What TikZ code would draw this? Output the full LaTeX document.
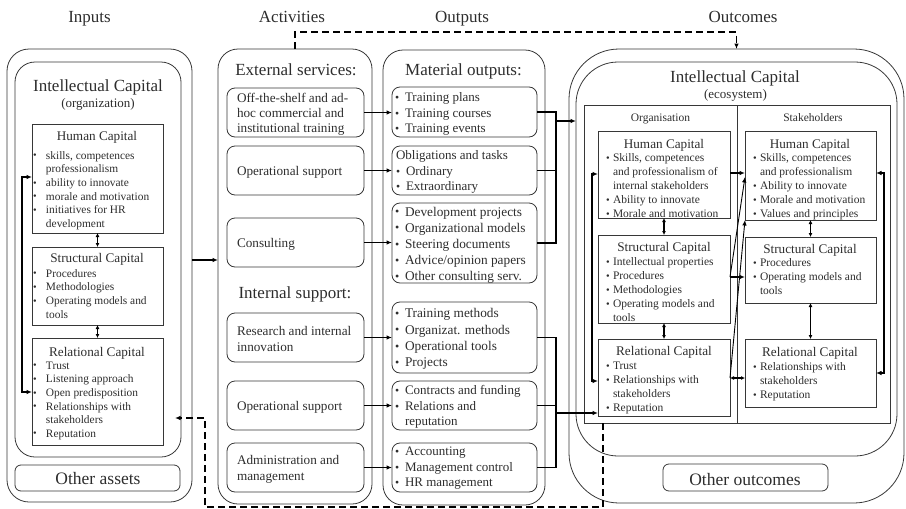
\documentclass[tikz,border=0pt]{standalone}
\usepackage{fontspec}
\setmainfont{Liberation Serif}
\usepackage{graphicx}
\usetikzlibrary{fit,arrows.meta,calc}
\definecolor{txt}{RGB}{45,45,45}
\definecolor{boxc}{RGB}{55,55,55}
\newcommand\bdot{\raisebox{0.05ex}{\scalebox{0.9}{\textbullet}}}
\newcommand\bL{\strut\makebox[13pt][l]{\bdot}}
\newcommand\iL{\strut\hspace*{13pt}}
\newcommand\bO{\strut\makebox[10pt][l]{\bdot}}
\newcommand\iO{\strut\hspace*{10pt}}
\newcommand\bC{\strut\makebox[7pt][l]{\bdot}}
\newcommand\iC{\strut\hspace*{7pt}}
\begin{document}
\begin{tikzpicture}[x=1pt,y=-1pt,
  >={Latex[length=5.5pt,width=4.5pt]},
  every node/.style={text=txt, inner sep=0pt, outer sep=0pt},
  frame/.style={draw=boxc, line width=0.8pt},
  cbox/.style={frame},
  rbox/.style={frame, rounded corners=8pt},
  conn/.style={line width=1.3pt, black},
  thinconn/.style={line width=0.9pt, black},
  dbl/.style={{Latex[length=4pt,width=4pt]}-{Latex[length=4pt,width=4pt]}},
  dashln/.style={line width=1.4pt, black, dash pattern=on 7pt off 4pt},
  head/.style={font=\fontsize{17}{20}\selectfont, anchor=base},
  bigt/.style={font=\fontsize{17}{20}\selectfont, anchor=base},
  subt/.style={font=\fontsize{13}{15}\selectfont, anchor=base},
  colt/.style={font=\fontsize{17}{20}\selectfont, anchor=base},
  ttl/.style={font=\fontsize{13.2}{15}\selectfont, anchor=base},
  boxlbl/.style={font=\fontsize{17.5}{20}\selectfont, anchor=base},
  smallt/.style={font=\fontsize{11.5}{14}\selectfont, anchor=base},
  actl/.style={font=\fontsize{13.2}{15}\selectfont, anchor=base west},
  lst/.style={anchor=north west, align=left},
  lstL/.style={lst, font=\fontsize{11.4}{13.6}\selectfont},
  lstA/.style={lst, font=\fontsize{13.2}{15}\selectfont},
  lstAb/.style={lst, font=\fontsize{13.2}{16}\selectfont},
  lstO/.style={lst, font=\fontsize{13}{15.5}\selectfont},
  lstOb/.style={lst, font=\fontsize{13.3}{16.2}\selectfont},
  lstC/.style={lst, font=\fontsize{11.5}{14}\selectfont}
]
\useasboundingbox (0,0) rectangle (906,509);

% headings
\node[head] (hIn) at (89.5,22) {Inputs};
\node[head] (hAct) at (292,22) {Activities};
\node[head] (hOutp) at (462,22) {Outputs};
\node[head] (hOutc) at (743,22) {Outcomes};

% ---------------- Inputs column
\node[frame, rounded corners=22pt, fit={(7,49)(192,502)}] (lOut) {};
\node[frame, rounded corners=20pt, fit={(15,62)(181,457)}] (lIn) {};
\node[bigt] (lT) at (98,91) {Intellectual Capital};
\node[subt] (lS) at (98,107) {(organization)};
\node[cbox, fit={(32,124)(163,233)}] (lHum) {};
\node[ttl] (lHumT) at (97,140) {Human Capital};
\node[lstL] (lHumL) at (33,149.7) {\bL skills, competences\\\iL professionalism\\\bL ability to innovate\\\bL morale and motivation\\\bL initiatives for HR\\\iL development};
\node[cbox, fit={(32,247)(163,325)}] (lStr) {};
\node[ttl] (lStrT) at (97,262) {Structural Capital};
\node[lstL] (lStrL) at (33,267.7) {\bL Procedures\\\bL Methodologies\\\bL Operating models and\\\iL tools};
\node[cbox, fit={(32,338)(163,445)}] (lRel) {};
\node[ttl] (lRelT) at (97,356) {Relational Capital};
\node[lstL] (lRelL) at (33,359.7) {\bL Trust\\\bL Listening approach\\\bL Open predisposition\\\bL Relationships with\\\iL stakeholders\\\bL Reputation};
\node[frame, rounded corners=6pt, fit={(15,465)(180,491)}] (lOth) {};
\node[boxlbl] (lOthT) at (98,484) {Other assets};

\draw[conn,dbl] (lHum.south) -- (lStr.north);
\draw[conn,dbl] (lStr.south) -- (lRel.north);
\draw[conn,<->] (lHum.west |- 0,177) -| (22,285) |- (lRel.west |- 0,392);

% ---------------- Activities column
\node[frame, rounded corners=20pt, fit={(218,49)(372,504)}] (aOut) {};
\node[colt] (aExt) at (296,75) {External services:};
\node[rbox, fit={(227,88)(364,137)}] (a1) {};
\node[lstA] (a1T) at (237,91.5) {\strut Off-the-shelf and ad-\\\strut hoc commercial and\\\strut institutional training};
\node[rbox, fit={(227,146)(364,195)}] (a2) {};
\node[actl] (a2T) at (237,175) {Operational support};
\node[rbox, fit={(227,218)(364,267)}] (a3) {};
\node[actl] (a3T) at (237,247) {Consulting};
\node[colt] (aInt) at (295,298) {Internal support:};
\node[rbox, fit={(227,313)(364,362)}] (a4) {};
\node[lstAb] (a4T) at (237,323.8) {\strut Research and internal\\\strut innovation};
\node[rbox, fit={(227,381)(364,430)}] (a5) {};
\node[actl] (a5T) at (237,410) {Operational support};
\node[rbox, fit={(227,443)(364,492)}] (a6) {};
\node[lstAb] (a6T) at (237,452.8) {\strut Administration and\\\strut management};

\draw[conn,->] (lOut.east |- 0,260) -- (aOut.west |- 0,260);

% ---------------- Outputs column
\node[frame, rounded corners=20pt, fit={(383,50)(545,505)}] (oOut) {};
\node[colt] (oMat) at (463.5,75) {Material outputs:};
\node[rbox, fit={(392,87)(537,137)}] (o1) {};
\node[lstO] (o1T) at (395,91) {\bO Training plans\\\bO Training courses\\\bO Training events};
\node[rbox, fit={(392,146)(537,195)}] (o2) {};
\node[lstO] (o2T) at (396,149) {\strut Obligations and tasks\\\bO Ordinary\\\bO Extraordinary};
\node[rbox, fit={(392,203)(537,283)}] (o3) {};
\node[lstOb] (o3T) at (395,204.7) {\bO Development projects\\\bO Organizational models\\\bO Steering documents\\\bO Advice/opinion papers\\\bO Other consulting serv.};
\node[rbox, fit={(392,302)(537,373)}] (o4) {};
\node[lstOb] (o4T) at (395,306.6) {\bO Training methods\\\bO Organizat. methods\\\bO Operational tools\\\bO Projects};
\node[rbox, fit={(392,381)(537,430)}] (o5) {};
\node[lstO] (o5T) at (395,384) {\bO Contracts and funding\\\bO Relations and\\\iO reputation};
\node[rbox, fit={(392,443)(537,492)}] (o6) {};
\node[lstO] (o6T) at (395,445) {\bO Accounting\\\bO Management control\\\bO HR management};

\foreach \i in {1,...,6} {\draw[conn,->] (a\i.east) -- (o\i.west |- a\i.east);}

% ---------------- Outcomes column
\node[frame, rounded corners=50pt, fit={(569,49)(904,503)}] (ocOut) {};
\node[frame, rounded corners=42pt, fit={(576,62)(897,456)}] (ocIn) {};
\node[bigt] (ocT) at (735,82) {Intellectual Capital};
\node[subt] (ocS) at (735.5,98) {(ecosystem)};
\node[draw=boxc, line width=0.5pt, fit={(584,105)(890,423)}] (grid) {};
\draw[draw=boxc, line width=0.5pt] (grid.north -| 737,0) -- (grid.south -| 737,0);
\node[smallt] (gOrg) at (660.5,121) {Organisation};
\node[smallt] (gSt) at (813,121) {Stakeholders};

\node[cbox, fit={(598,131)(730,218)}] (orH) {};
\node[ttl] (orHT) at (664,148) {Human Capital};
\node[lstC] (orHL) at (606,151.7) {\bC Skills, competences\\\iC and professionalism of\\\iC internal stakeholders\\\bC Ability to innovate\\\bC Morale and motivation};
\node[cbox, fit={(598,235)(730,323)}] (orS) {};
\node[ttl] (orST) at (664,251) {Structural Capital};
\node[lstC] (orSL) at (606,255.7) {\bC Intellectual properties\\\bC Procedures\\\bC Methodologies\\\bC Operating models and\\\iC tools};
\node[cbox, fit={(598,339)(730,416)}] (orR) {};
\node[ttl] (orRT) at (664,355) {Relational Capital};
\node[lstC] (orRL) at (606,359.7) {\bC Trust\\\bC Relationships with\\\iC stakeholders\\\bC Reputation};

\node[cbox, fit={(745,131)(876,220)}] (stH) {};
\node[ttl] (stHT) at (810,148) {Human Capital};
\node[lstC] (stHL) at (753,151.7) {\bC Skills, competences\\\iC and professionalism\\\bC Ability to innovate\\\bC Morale and motivation\\\bC Values and principles};
\node[cbox, fit={(745,237)(876,303)}] (stS) {};
\node[ttl] (stST) at (810,253) {Structural Capital};
\node[lstC] (stSL) at (753,256.7) {\bC Procedures\\\bC Operating models and\\\iC tools};
\node[cbox, fit={(745,339)(876,407)}] (stR) {};
\node[ttl] (stRT) at (810,356) {Relational Capital};
\node[lstC] (stRL) at (753,360.7) {\bC Relationships with\\\iC stakeholders\\\bC Reputation};

\node[frame, rounded corners=6pt, fit={(663,464)(828,491)}] (ocOth) {};
\node[boxlbl] (ocOthT) at (745,485) {Other outcomes};

% outputs bus to outcomes
\coordinate (busT) at (556,121);
\coordinate (busB) at (556,413);
\foreach \i in {1,2,3} {\draw[conn] (o\i.east) -| (busT);}
\foreach \i in {4,5,6} {\draw[conn] (o\i.east) -| (busB);}
\draw[conn,->] (busT) -- (ocIn.west |- busT);
\draw[conn,->] (busB) -- (orR.west |- busB);

% outcome internal connectors
\draw[conn,dbl] (orH.south) -- (orS.north);
\draw[conn,dbl] (orS.south) -- (orR.north);
\draw[conn,dbl] (stH.south) -- (stS.north);
\draw[conn,dbl] (stS.south) -- (stR.north);
\draw[conn,<->] (orH.west |- 0,174) -| (592,280) |- (orR.west |- 0,381);
\draw[conn,<->] (stH.east |- 0,173) -| (884,280) |- (stR.east |- 0,373);
\draw[conn,->] (orH.east |- 0,173) -- (stH.west |- 0,173);
\draw[conn,->] (orS.east |- 0,277) -- (stS.west |- 0,277);
\draw[conn,dbl] (orR.east |- 0,378) -- (stR.west |- 0,378);
\draw[thinconn,->] (orS.east |- 0,277) -- (stH.west |- 0,177);
\draw[thinconn,->] (orR.east |- 0,378) -- (stH.west |- 0,220);

% dashed feedback lines
\draw[dashln,->] (aOut.north) -- (aOut.north |- 0,32) -| (ocOut.north);
\coordinate (dA) at (603,507);
\coordinate (dB) at (205,507);
\coordinate (dC) at (205,418);
\coordinate (dE) at (175,418);
\draw[dashln,->] (grid.south -| dA) -- (dA) -- (dB) -- (dC) -- (dE);
\end{tikzpicture}
\end{document}
